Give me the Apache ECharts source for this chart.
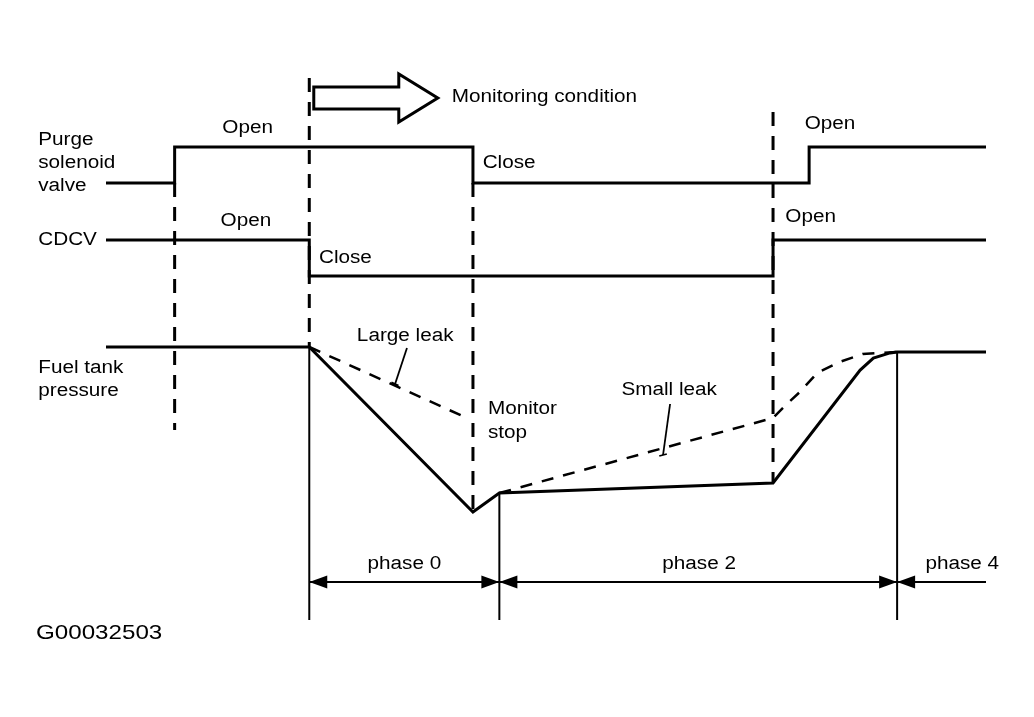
<!DOCTYPE html>
<html><head><meta charset="utf-8">
<script src="https://cdn.jsdelivr.net/npm/echarts@6/dist/echarts.min.js"></script>
<style>html,body{margin:0;padding:0;background:#fff}#c{width:1034px;height:717px}</style>
</head><body><div id="c"></div>
<script>
// ---------------- data (time in arbitrary units: 0 = trace start, 100 = trace end) ----------------
const purgeTime  = [0, 7.8, 7.8, 41.7, 41.7, 79.9, 79.9, 100];
const purgeState = [0, 0, 1, 1, 0, 0, 1, 1];            // 1 = Open, 0 = Close
const cdcvTime   = [0, 23.1, 23.1, 75.8, 75.8, 100];
const cdcvState  = [1, 1, 0, 0, 1, 1];                    // 1 = Open, 0 = Close
const fuelTime     = [0, 23.1, 41.7, 44.7, 75.8, 85.7, 87.2, 89.1, 89.9, 100];
const fuelPressure = [0, 0, -100, -88.5, -82.4, -14, -6.7, -3.6, -3, -3];   // relative pressure
const largeLeakTime     = [23.1, 41.0];
const largeLeakPressure = [0, -43];
const smallLeakTime     = [44.7, 75.8, 76.9, 78.9, 80.8, 83.4, 86.0, 88.0, 89.9];
const smallLeakPressure = [-88.5, -43, -37, -27, -15.8, -9, -4.2, -3.6, -3];
const eventTimes  = [7.8, 23.1, 41.7, 75.8];               // dashed event markers
const phaseBounds = [23.1, 44.7, 89.9, 100];
const phaseNames  = ['phase 0', 'phase 2', 'phase 4'];
const monitorStart = 23.1;
const figureId = 'G00032503';

// ---------------- layout (overlay y = distance from top of the picture) ----------------
const FONT = '"Liberation Sans", Arial, sans-serif';
const X_LEFT = 106, X_RIGHT = 48;
const eventSpans = [[183, 430], [78, 347], [183, 512], [112, 483]];
const phaseLineTops = [347, 493, 352];
const phaseLineBottom = 620;
const DIM_Y = 582;
const annotations = [
  {text: 'Purge',     t: -7.7, y: 140},
  {text: 'solenoid',  t: -7.7, y: 163},
  {text: 'valve',     t: -7.7, y: 186},
  {text: 'CDCV',      t: -7.7, y: 240},
  {text: 'Fuel tank', t: -7.7, y: 368},
  {text: 'pressure',  t: -7.7, y: 391},
  {text: 'Open',  t: 16.1, y: 128, align: 'center'},
  {text: 'Open',  t: 15.9, y: 221, align: 'center'},
  {text: 'Close', t: 42.8, y: 163},
  {text: 'Close', t: 24.2, y: 258},
  {text: 'Open',  t: 79.4, y: 124},
  {text: 'Open',  t: 77.2, y: 217},
  {text: 'Monitoring condition', t: 39.3, y: 97},
  {text: 'Large leak', t: 34.0, y: 336, align: 'center'},
  {text: 'Monitor', t: 43.4, y: 409},
  {text: 'stop',    t: 43.4, y: 433},
  {text: 'Small leak', t: 64.0, y: 390, align: 'center'},
  {text: phaseNames[0], t: 33.9, y: 564, align: 'center'},
  {text: phaseNames[1], t: 67.4, y: 564, align: 'center'},
  {text: phaseNames[2], t: 97.3, y: 564, align: 'center'},
  {text: figureId, t: -7.95, y: 633, size: 21}
];
const leaders = [
  [[34.2, 348], [32.85, 384]],
  [[32.43, 382.4], [33.24, 385.6]],
  [[64.1, 404], [63.3, 455]],
  [[62.87, 456], [63.73, 454]]
];

const chart = echarts.init(document.getElementById('c'), null, {renderer: 'canvas'});
const grids = [
  {left: X_LEFT, right: X_RIGHT, top: 0, bottom: 0},
  {left: X_LEFT, right: X_RIGHT, top: 147, height: 36},
  {left: X_LEFT, right: X_RIGHT, top: 240, height: 36},
  {left: X_LEFT, right: X_RIGHT, top: 347, height: 165}
];
const xAxes = grids.map((g, i) => ({type: 'value', gridIndex: i, min: 0, max: 100, show: false}));
const yAxes = [
  {type: 'value', gridIndex: 0, min: 0, max: 717, inverse: true, show: false},
  {type: 'value', gridIndex: 1, min: 0, max: 1, show: false},
  {type: 'value', gridIndex: 2, min: 0, max: 1, show: false},
  {type: 'value', gridIndex: 3, min: -100, max: 0, show: false}
];
function zip(a, b) { return a.map((v, i) => [v, b[i]]); }
function lineSeries(gi, data, width, dash) {
  return {
    type: 'line', xAxisIndex: gi, yAxisIndex: gi, data: data,
    symbol: 'none', showSymbol: false, clip: false, silent: true, smooth: false,
    lineStyle: {color: '#000', width: width, type: dash || 'solid', join: 'miter', cap: 'butt'}
  };
}
const series = [];
series.push(lineSeries(1, zip(purgeTime, purgeState), 3));
series.push(lineSeries(2, zip(cdcvTime, cdcvState), 3));
series.push(lineSeries(3, zip(fuelTime, fuelPressure), 3));
series.push(lineSeries(3, zip(largeLeakTime, largeLeakPressure), 2.5, [12, 10]));
series.push(lineSeries(3, zip(smallLeakTime, smallLeakPressure), 2.5, [12, 10]));
eventTimes.forEach((t, i) => {
  series.push(lineSeries(0, [[t, eventSpans[i][0]], [t, eventSpans[i][1]]], 3, [14, 10]));
});
phaseBounds.slice(0, 3).forEach((t, i) => {
  series.push(lineSeries(0, [[t, phaseLineTops[i]], [t, phaseLineBottom]], 2));
});
leaders.forEach(seg => series.push(lineSeries(0, seg, 1.8)));

// phase dimension arrows
series.push({
  type: 'custom', xAxisIndex: 0, yAxisIndex: 0, silent: true,
  data: phaseNames.map((n, i) => [phaseBounds[i], phaseBounds[i + 1]]),
  renderItem: function (params, api) {
    const i = params.dataIndex;
    const a = api.coord([api.value(0), DIM_Y]);
    const b = api.coord([api.value(1), DIM_Y]);
    const tri = (p, dir) => ({type: 'polygon', shape: {points: [[p[0], p[1]], [p[0] - dir * 18, p[1] - 6.5], [p[0] - dir * 18, p[1] + 6.5]]}, style: {fill: '#000'}});
    const children = [{type: 'line', shape: {x1: a[0], y1: a[1], x2: b[0], y2: b[1]}, style: {stroke: '#000', lineWidth: 2}}];
    children.push(tri(a, -1));
    if (i < phaseNames.length - 1) children.push(tri(b, 1));
    return {type: 'group', children: children};
  }
});
// hollow "monitoring condition" arrow
series.push({
  type: 'custom', xAxisIndex: 0, yAxisIndex: 0, silent: true,
  data: [[monitorStart, 98]],
  renderItem: function (params, api) {
    const p = api.coord([api.value(0), api.value(1)]);
    const x0 = p[0] + 4.5, xb = p[0] + 89.5, xt = p[0] + 128.5, y = p[1];
    return {type: 'polygon', shape: {points: [[x0, y - 11], [xb, y - 11], [xb, y - 24], [xt, y], [xb, y + 24], [xb, y + 11], [x0, y + 11]]},
      style: {fill: '#fff', stroke: '#000', lineWidth: 3, lineJoin: 'miter'}};
  }
});
// text annotations
series.push({
  type: 'custom', xAxisIndex: 0, yAxisIndex: 0, silent: true,
  data: annotations.map(a => [a.t, a.y]),
  renderItem: function (params, api) {
    const a = annotations[params.dataIndex];
    const p = api.coord([api.value(0), api.value(1)]);
    return {type: 'text', x: p[0], y: p[1], scaleX: 1.15,
      style: {text: a.text, fill: '#000', fontSize: a.size || 18, fontFamily: FONT,
        textAlign: a.align || 'left', textVerticalAlign: 'middle'}};
  }
});

chart.setOption({
  backgroundColor: '#fff',
  animation: false,
  grid: grids, xAxis: xAxes, yAxis: yAxes,
  series: series
});
</script>
</body></html>
